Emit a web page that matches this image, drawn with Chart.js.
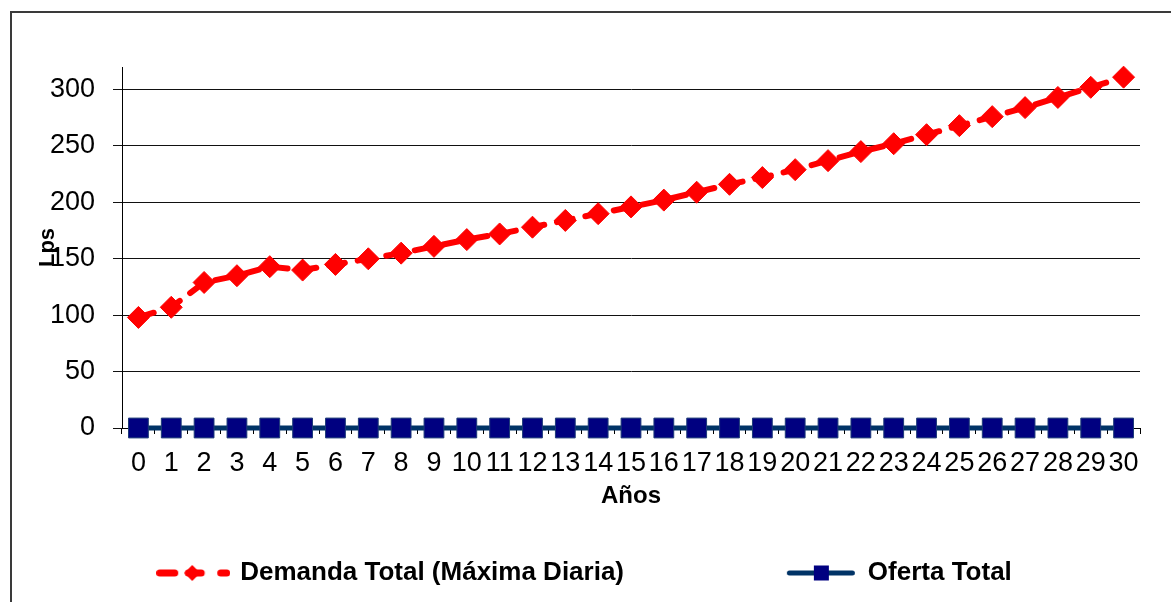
<!DOCTYPE html>
<html>
<head>
<meta charset="utf-8">
<script src="https://cdn.jsdelivr.net/npm/chart.js@4/dist/chart.umd.min.js"></script>
<style>
  html, body { margin: 0; padding: 0; background: #fff; overflow: hidden; }
  #frame { position: absolute; left: 10px; top: 11px; width: 1300px; height: 700px;
           border-left: 2px solid #3a3a3a; border-top: 2px solid #3a3a3a; }
  #wrap { position: absolute; left: 0; top: 0; width: 1171px; height: 602px; }
</style>
</head>
<body>
<div id="frame"></div>
<div id="wrap"><canvas id="chart"></canvas></div>
<script>
const years = ['0','1','2','3','4','5','6','7','8','9','10','11','12','13','14','15',
  '16','17','18','19','20','21','22','23','24','25','26','27','28','29','30'];
const demanda = [98, 107, 129, 135, 143, 140, 145, 150, 155, 161, 167, 172, 178, 184, 190, 196,
  202, 209, 216, 222, 229, 237, 245, 252, 260, 268, 276, 284, 293, 302, 311];
const oferta = [0, 0, 0, 0, 0, 0, 0, 0, 0, 0, 0, 0, 0, 0, 0, 0,
  0, 0, 0, 0, 0, 0, 0, 0, 0, 0, 0, 0, 0, 0, 0];
const seriesNames = ['Demanda Total (Máxima Diaria)', 'Oferta Total'];
const yTicks = [0, 50, 100, 150, 200, 250, 300];
const yMax = 320;

const red = '#ff0000';
const navy = '#000080';
const navyLine = '#003366';

// legend keys: line + marker, drawn once into small canvases
const makeKey = (draw) => {
  const c = document.createElement('canvas');
  c.width = 74; c.height = 20;
  draw(c.getContext('2d'));
  return c;
};
const redKey = makeKey(ctx => {
  ctx.strokeStyle = red; ctx.fillStyle = red; ctx.lineWidth = 7; ctx.lineCap = 'round';
  ctx.beginPath(); ctx.moveTo(3.5, 10); ctx.lineTo(18.5, 10); ctx.stroke();
  ctx.beginPath(); ctx.moveTo(32, 10); ctx.lineTo(45, 10); ctx.stroke();
  ctx.beginPath(); ctx.moveTo(36, 2); ctx.lineTo(44, 10); ctx.lineTo(36, 18); ctx.lineTo(28, 10); ctx.closePath(); ctx.fill();
  ctx.beginPath(); ctx.moveTo(64.5, 10); ctx.lineTo(70.5, 10); ctx.stroke();
});
const blueKey = makeKey(ctx => {
  ctx.strokeStyle = navyLine; ctx.lineWidth = 5; ctx.lineCap = 'round';
  ctx.beginPath(); ctx.moveTo(5.5, 10); ctx.lineTo(68.5, 10); ctx.stroke();
  ctx.fillStyle = navy;
  ctx.fillRect(30, 2.5, 15, 15);
});

Chart.defaults.font.family = '"Liberation Sans", Arial, sans-serif';
Chart.defaults.color = '#000';

const legendGap = 40;
const spacer = ' '.repeat(17);

new Chart(document.getElementById('chart'), {
  type: 'line',
  data: {
    labels: years,
    datasets: [{
      label: seriesNames[0],
      data: demanda,
      borderColor: red,
      backgroundColor: red,
      borderWidth: 6,
      borderDash: [16, 13],
      borderCapStyle: 'round',
      tension: 0,
      pointStyle: 'rectRot',
      pointRadius: 11,
      pointHoverRadius: 11,
      pointBackgroundColor: red,
      pointBorderColor: red,
      pointBorderWidth: 1,
      clip: false
    }, {
      label: seriesNames[1],
      data: oferta,
      borderColor: navyLine,
      backgroundColor: navy,
      borderWidth: 5,
      tension: 0,
      pointStyle: 'rect',
      pointRadius: 14,
      pointHoverRadius: 14,
      pointBackgroundColor: navy,
      pointBorderColor: '#1c3a78',
      pointBorderWidth: 1,
      clip: false
    }]
  },
  options: {
    responsive: true,
    maintainAspectRatio: false,
    animation: false,
    events: [],
    layout: { padding: { left: 31, top: 67, right: 31, bottom: 6 } },
    plugins: {
      tooltip: { enabled: false },
      legend: {
        position: 'bottom',
        labels: {
          usePointStyle: true,
          pointStyleWidth: 68,
          padding: legendGap,
          color: '#000',
          font: { size: 26, weight: 'bold' },
          generateLabels(chart) {
            const items = Chart.defaults.plugins.legend.labels.generateLabels(chart);
            items[0].pointStyle = redKey;
            items[0].text = seriesNames[0] + spacer;
            items[1].pointStyle = blueKey;
            return items;
          }
        }
      }
    },
    scales: {
      x: {
        offset: true,
        afterFit(scale) { scale.height = 92; },
        grid: { display: true, drawOnChartArea: false, offset: true, tickLength: 6, color: '#000', lineWidth: 1 },
        border: { display: true, color: '#000', width: 1 },
        ticks: { autoSkip: false, maxRotation: 0, minRotation: 0, padding: 13, font: { size: 27 } },
        title: { display: true, text: 'Años', font: { size: 24, weight: 'bold', lineHeight: 1.2 }, padding: { top: 0, bottom: 9 } }
      },
      y: {
        min: 0,
        max: yMax,
        afterFit(scale) { scale.width = 91; },
        afterBuildTicks(axis) { axis.ticks = yTicks.map(v => ({ value: v })); },
        grid: { color: '#111', lineWidth: 1, tickLength: 9 },
        border: { display: true, color: '#000', width: 1 },
        ticks: { padding: 18, font: { size: 27 } },
        title: { display: true, text: 'Lps', font: { size: 22, weight: 'bold', lineHeight: 1.2 }, padding: { top: 4, bottom: 0 } }
      }
    }
  }
});
</script>
</body>
</html>
